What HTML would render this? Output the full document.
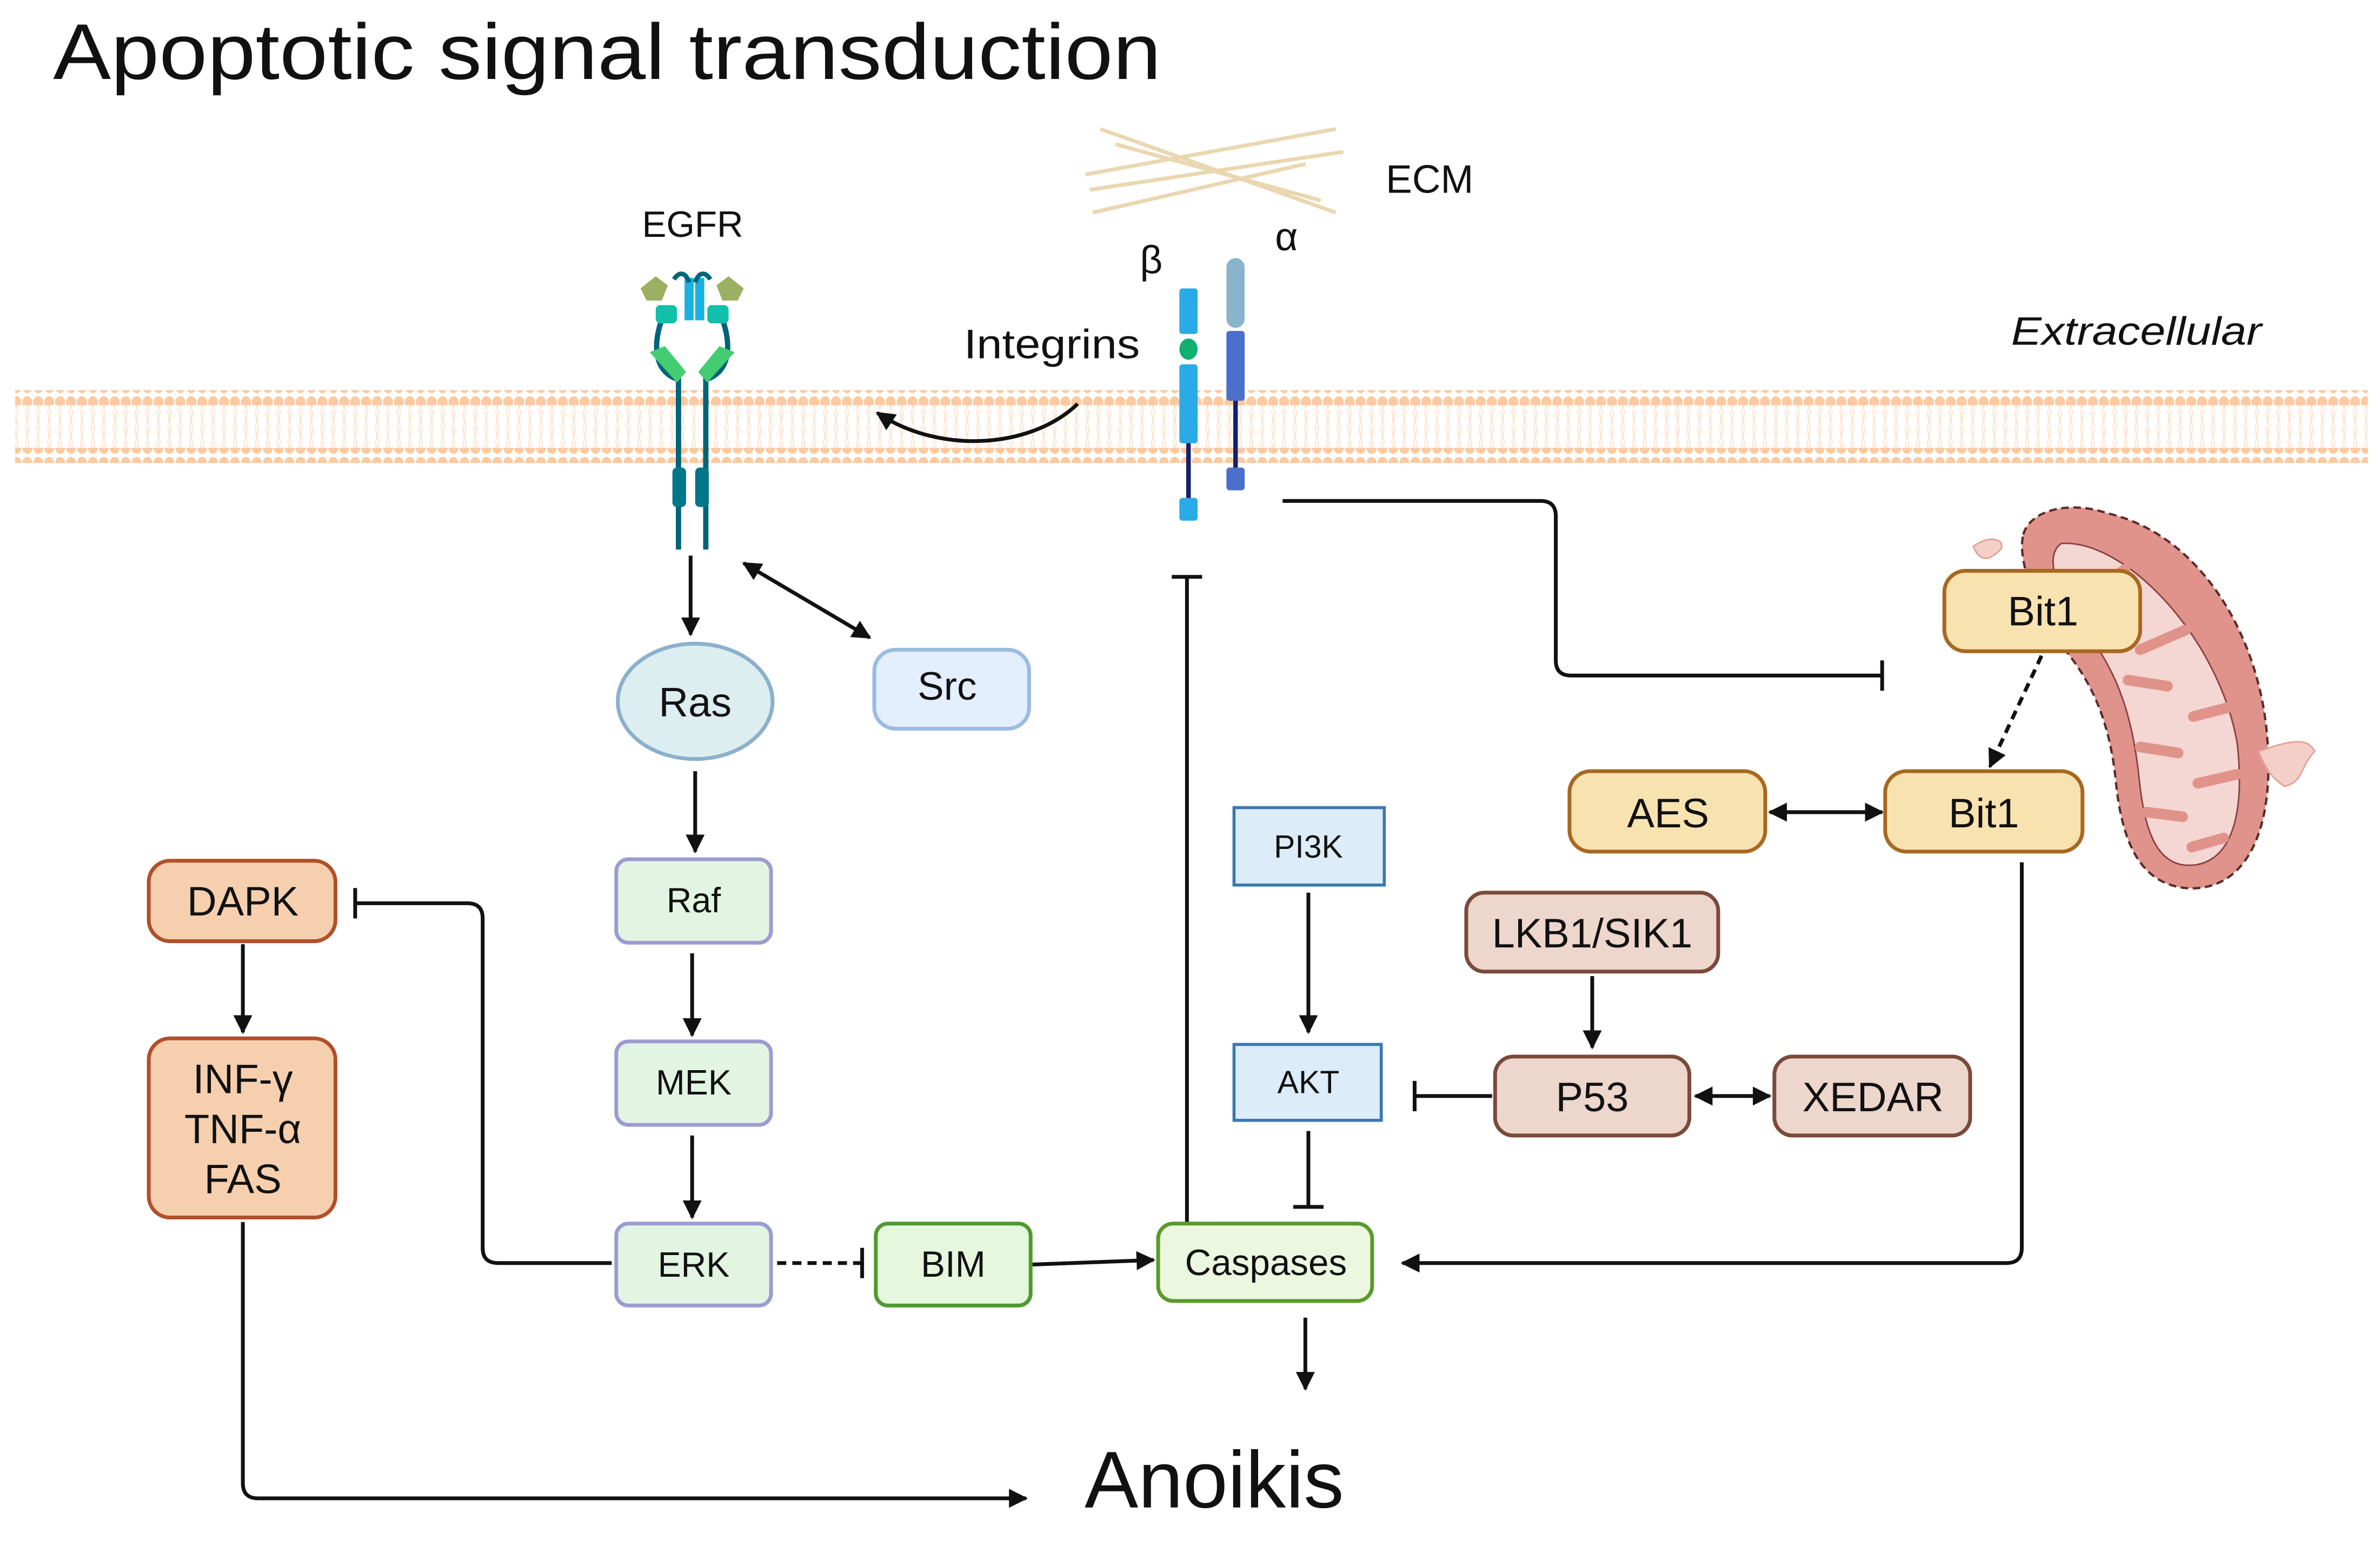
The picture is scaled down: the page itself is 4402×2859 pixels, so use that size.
<!DOCTYPE html>
<html><head><meta charset="utf-8"><style>
html,body{margin:0;padding:0;background:#fff;}
svg{display:block;}
text{font-family:"Liberation Sans",sans-serif;fill:#111;}
</style></head><body>
<svg width="4402" height="2859" viewBox="0 0 1568 1018.4" preserveAspectRatio="none" xmlns="http://www.w3.org/2000/svg">
<defs>
<pattern id="dots" x="0" y="0" width="7.2" height="10" patternUnits="userSpaceOnUse">
<ellipse cx="3.6" cy="5" rx="3.3" ry="4" fill="#fcc9a0"/>
</pattern>
<pattern id="tails" x="0" y="0" width="7.2" height="10" patternUnits="userSpaceOnUse">
<path d="M2.5,0 L3.6,10 M4.7,0 L3.6,10" stroke="#fde2cc" stroke-width="0.7" fill="none"/>
</pattern>
<marker id="ar" viewBox="0 0 10 10" refX="9" refY="5" markerWidth="5" markerHeight="5" orient="auto-start-reverse">
<path d="M0,0 L10,5 L0,10 z" fill="#111"/>
</marker>
</defs>
<rect width="1568" height="1018.4" fill="#fff"/>

<text x="35" y="52" font-size="52" textLength="730" lengthAdjust="spacingAndGlyphs">Apoptotic signal transduction</text>

<!-- membrane -->
<rect x="10" y="257" width="1550" height="10" fill="url(#dots)"/>
<rect x="10" y="267" width="1550" height="28" fill="url(#tails)"/>
<rect x="10" y="295" width="1550" height="10" fill="url(#dots)"/>

<!-- ECM fibers -->
<g stroke="#ead7b0" stroke-width="2.5">
<line x1="715" y1="115" x2="880" y2="85"/>
<line x1="718" y1="125" x2="885" y2="100"/>
<line x1="725" y1="85" x2="880" y2="140"/>
<line x1="735" y1="95" x2="870" y2="132"/>
<line x1="720" y1="140" x2="860" y2="108"/>
</g>
<text x="913" y="127" font-size="26">ECM</text>
<text x="751" y="180" font-size="26">β</text>
<text x="840" y="165" font-size="26">α</text>
<text x="635" y="236" font-size="27" textLength="116" lengthAdjust="spacingAndGlyphs">Integrins</text>
<text x="1325" y="227" font-size="26" font-style="italic" textLength="165" lengthAdjust="spacingAndGlyphs">Extracellular</text>
<text x="423" y="156" font-size="24">EGFR</text>

<!-- EGFR receptor -->
<g>
<path d="M437,208 C430,225 430,245 447,250 L447,362 M475,208 C482,225 482,245 465,250 L465,362" stroke="#00647a" stroke-width="3.5" fill="none"/>
<rect x="451" y="183" width="6" height="28" fill="#1ab0e0"/>
<rect x="458" y="183" width="6" height="28" fill="#1ab0e0"/>
<path d="M444,184 C448,178 452,180 454,186 M468,184 C464,178 460,180 458,186" stroke="#00647a" stroke-width="3" fill="none"/>
<polygon points="422,190 432,182 440,188 436,198 426,198" fill="#9bb062"/>
<polygon points="490,190 480,182 472,188 476,198 486,198" fill="#9bb062"/>
<rect x="432" y="201" width="14" height="12" rx="3" fill="#10c0a8"/>
<rect x="466" y="201" width="14" height="12" rx="3" fill="#10c0a8"/>
<polygon points="428,232 438,228 452,245 446,252" fill="#44cc70"/>
<polygon points="484,232 474,228 460,245 466,252" fill="#44cc70"/>
<rect x="443" y="308" width="9" height="26" rx="3" fill="#00768a"/>
<rect x="458" y="308" width="9" height="26" rx="3" fill="#00768a"/>
</g>

<!-- integrins -->
<g>
<line x1="783" y1="260" x2="783" y2="335" stroke="#15206a" stroke-width="3"/>
<line x1="814" y1="260" x2="814" y2="315" stroke="#15206a" stroke-width="3"/>
<rect x="777" y="190" width="12" height="30" rx="2" fill="#2aaae6"/>
<ellipse cx="783" cy="230" rx="6" ry="7" fill="#10b070"/>
<rect x="777" y="240" width="12" height="52" rx="2" fill="#2aaae6"/>
<rect x="777" y="328" width="12" height="15" rx="2" fill="#2aaae6"/>
<rect x="808" y="170" width="12" height="46" rx="6" fill="#8ab4cc"/>
<rect x="808" y="218" width="12" height="46" rx="2" fill="#4a70cc"/>
<rect x="808" y="308" width="12" height="15" rx="2" fill="#4a70cc"/>
</g>
<path d="M710,266 C680,295 620,300 578,272" stroke="#111" stroke-width="2.5" fill="none" marker-end="url(#ar)"/>

<!-- mitochondrion -->
<path d="M1333,352 C1338,335 1365,330 1388,338 C1450,352 1490,420 1494,490 C1498,550 1478,588 1440,585 C1410,582 1398,555 1394,515 C1390,475 1378,450 1362,430 C1346,410 1328,372 1333,352 Z" fill="#e0938a" stroke="#5a2a2a" stroke-width="1.5" stroke-dasharray="5,3"/>
<path d="M1358,358 C1400,355 1462,420 1474,490 C1480,545 1466,570 1442,570 C1418,570 1412,540 1409,510 C1404,465 1392,440 1376,418 C1360,398 1344,368 1358,358 Z" fill="#f4d6d2" stroke="#8a4040" stroke-width="1"/>
<g stroke="#e0938a" stroke-width="7" stroke-linecap="round">
<line x1="1400" y1="375" x2="1378" y2="392"/>
<line x1="1440" y1="415" x2="1410" y2="428"/>
<line x1="1402" y1="448" x2="1428" y2="452"/>
<line x1="1472" y1="465" x2="1445" y2="472"/>
<line x1="1410" y1="492" x2="1435" y2="496"/>
<line x1="1474" y1="510" x2="1448" y2="516"/>
<line x1="1414" y1="535" x2="1438" y2="538"/>
<line x1="1465" y1="552" x2="1444" y2="558"/>
</g>
<path d="M1488,495 C1508,488 1520,485 1525,495 C1515,505 1518,515 1505,518 C1496,512 1492,505 1488,495 Z" fill="#f4cfc8" stroke="#e0a098" stroke-width="1"/>
<path d="M1300,360 C1310,352 1322,355 1318,362 C1312,368 1305,372 1300,360 Z" fill="#f4cfc8" stroke="#e0a098" stroke-width="1"/>

<!-- connectors -->
<g stroke="#111" stroke-width="2.5" fill="none">
<line x1="455" y1="366" x2="455" y2="418" marker-end="url(#ar)"/>
<line x1="490" y1="371" x2="573" y2="420" marker-start="url(#ar)" marker-end="url(#ar)"/>
<line x1="458" y1="508" x2="458" y2="561" marker-end="url(#ar)"/>
<line x1="456" y1="628" x2="456" y2="682" marker-end="url(#ar)"/>
<line x1="456" y1="748" x2="456" y2="802" marker-end="url(#ar)"/>
<line x1="512" y1="832" x2="568" y2="832" stroke-dasharray="6,4"/>
<line x1="568" y1="822" x2="568" y2="842"/>
<path d="M403,832 L328,832 Q318,832 318,822 L318,605 Q318,595 308,595 L234,595"/>
<line x1="234" y1="585" x2="234" y2="605"/>
<line x1="680" y1="833" x2="760" y2="830" marker-end="url(#ar)"/>
<line x1="782" y1="805" x2="782" y2="380"/>
<line x1="772" y1="380" x2="792" y2="380"/>
<path d="M845,330 L1015,330 Q1025,330 1025,340 L1025,435 Q1025,445 1035,445 L1240,445"/>
<line x1="1240" y1="435" x2="1240" y2="455"/>
<line x1="1345" y1="432" x2="1311" y2="505" stroke-dasharray="6,4" marker-end="url(#ar)"/>
<line x1="1166" y1="535" x2="1240" y2="535" marker-start="url(#ar)" marker-end="url(#ar)"/>
<path d="M1332,568 L1332,822 Q1332,832 1322,832 L924,832" marker-end="url(#ar)"/>
<line x1="862" y1="588" x2="862" y2="680" marker-end="url(#ar)"/>
<line x1="862" y1="745" x2="862" y2="795"/>
<line x1="852" y1="795" x2="872" y2="795"/>
<line x1="983" y1="722" x2="932" y2="722"/>
<line x1="932" y1="712" x2="932" y2="732"/>
<line x1="1049" y1="643" x2="1049" y2="690" marker-end="url(#ar)"/>
<line x1="1117" y1="722" x2="1166" y2="722" marker-start="url(#ar)" marker-end="url(#ar)"/>
<line x1="860" y1="868" x2="860" y2="915" marker-end="url(#ar)"/>
<line x1="160" y1="622" x2="160" y2="680" marker-end="url(#ar)"/>
<path d="M160,805 L160,977 Q160,987 170,987 L676,987" marker-end="url(#ar)"/>
</g>

<!-- nodes -->
<ellipse cx="458" cy="462" rx="51" ry="38" fill="#ddeef0" stroke="#8ab0cc" stroke-width="2.5"/>
<text x="458" y="472" font-size="27" text-anchor="middle">Ras</text>
<rect x="576" y="428" width="102" height="52" rx="14" fill="#e3efff" stroke="#9bbbe0" stroke-width="2.5"/>
<text x="624" y="461" font-size="26" text-anchor="middle">Src</text>

<g fill="#e2f5e2" stroke="#9c9cd0" stroke-width="2.5">
<rect x="406" y="566" width="102" height="55" rx="8"/>
<rect x="406" y="686" width="102" height="55" rx="8"/>
<rect x="406" y="806" width="102" height="54" rx="8"/>
</g>
<text x="457" y="601" font-size="23" text-anchor="middle">Raf</text>
<text x="457" y="721" font-size="23" text-anchor="middle">MEK</text>
<text x="457" y="841" font-size="23" text-anchor="middle">ERK</text>

<rect x="577" y="806" width="102" height="54" rx="8" fill="#e5f7dd" stroke="#4e9a2e" stroke-width="2.5"/>
<text x="628" y="841" font-size="24" text-anchor="middle">BIM</text>
<rect x="763" y="806" width="141" height="51" rx="10" fill="#ecf7e0" stroke="#5a9a2a" stroke-width="2.5"/>
<text x="834" y="840" font-size="24" text-anchor="middle">Caspases</text>

<g fill="#dcecf8" stroke="#3a78b0" stroke-width="2">
<rect x="813" y="532" width="99" height="51"/>
<rect x="813" y="688" width="97" height="50"/>
</g>
<text x="862" y="565" font-size="21" text-anchor="middle">PI3K</text>
<text x="862" y="720" font-size="21" text-anchor="middle">AKT</text>

<g fill="#edd6cc" stroke="#7a4a3a" stroke-width="2.5">
<rect x="966" y="588" width="166" height="52" rx="12"/>
<rect x="985" y="696" width="128" height="52" rx="12"/>
<rect x="1169" y="696" width="129" height="52" rx="12"/>
</g>
<text x="1049" y="624" font-size="27" text-anchor="middle">LKB1/SIK1</text>
<text x="1049" y="732" font-size="27" text-anchor="middle">P53</text>
<text x="1234" y="732" font-size="27" text-anchor="middle">XEDAR</text>

<g fill="#f8e2b0" stroke="#a86820" stroke-width="2.5">
<rect x="1034" y="508" width="129" height="53" rx="14"/>
<rect x="1242" y="508" width="130" height="53" rx="14"/>
<rect x="1281" y="376" width="129" height="53" rx="14"/>
</g>
<text x="1099" y="545" font-size="27" text-anchor="middle">AES</text>
<text x="1307" y="545" font-size="27" text-anchor="middle">Bit1</text>
<text x="1346" y="412" font-size="27" text-anchor="middle">Bit1</text>

<g fill="#f6d0ae" stroke="#b0502a" stroke-width="2.5">
<rect x="98" y="567" width="123" height="53" rx="14"/>
<rect x="98" y="684" width="123" height="118" rx="14"/>
</g>
<text x="160" y="603" font-size="27" text-anchor="middle">DAPK</text>
<text x="160" y="720" font-size="27" text-anchor="middle">INF-γ</text>
<text x="160" y="753" font-size="27" text-anchor="middle">TNF-α</text>
<text x="160" y="786" font-size="27" text-anchor="middle">FAS</text>

<text x="800" y="993" font-size="53" text-anchor="middle">Anoikis</text>
</svg>
</body></html>
